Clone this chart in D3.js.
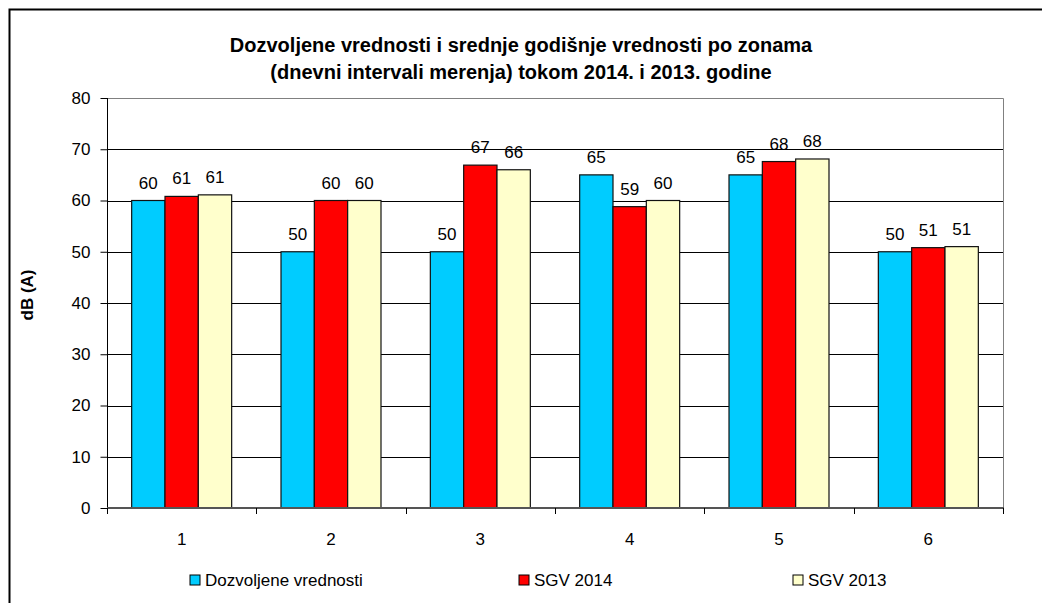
<!DOCTYPE html>
<html>
<head>
<meta charset="utf-8">
<script src="https://cdn.jsdelivr.net/npm/d3@7"></script>
<style>
  body { margin: 0; background: #fff; }
  svg { display: block; font-family: "Liberation Sans", Arial, sans-serif; }
</style>
</head>
<body>
<div id="chart"></div>
<script>
const zones = ["1", "2", "3", "4", "5", "6"];
const seriesNames = ["Dozvoljene vrednosti", "SGV 2014", "SGV 2013"];
const dozvoljene = [60, 50, 50, 65, 65, 50];
const sgv2014 = [60.8, 60.0, 66.9, 58.8, 67.6, 50.8];
const sgv2013 = [61.1, 60.0, 66.0, 60.0, 68.1, 51.0];
const yTicks = [0, 10, 20, 30, 40, 50, 60, 70, 80];
const titleLines = [
  "Dozvoljene vrednosti i srednje godišnje vrednosti po zonama",
  "(dnevni intervali merenja) tokom 2014. i 2013. godine"
];

const w = 1042, h = 603;
const margin = {top: 98, right: 39, bottom: 95, left: 107};
const colors = ["#00ccff", "#ff0000", "#ffffcc"];

const svg = d3.select("#chart").append("svg")
    .attr("width", w)
    .attr("height", h);

// outer frame (continues past the picture edge)
svg.append("rect")
    .attr("x", 9.5).attr("y", 9.5)
    .attr("width", w + 20).attr("height", h + 20)
    .attr("fill", "none")
    .attr("stroke", "#000")
    .attr("stroke-width", 2);

const x0 = d3.scaleBand()
    .domain(zones)
    .range([margin.left, w - margin.right])
    .paddingInner(0.3304)
    .paddingOuter(0.1652);

const x1 = d3.scaleBand()
    .domain(seriesNames)
    .range([0, x0.bandwidth()]);

const y = d3.scaleLinear()
    .domain([0, 80])
    .range([h - margin.bottom, margin.top]);

const color = d3.scaleOrdinal().domain(seriesNames).range(colors);

// gridlines
svg.append("g")
    .selectAll("line")
    .data(yTicks.filter(d => d > 0 && d < 80))
    .join("line")
    .attr("x1", margin.left).attr("x2", w - margin.right)
    .attr("y1", d => Math.round(y(d)) + 0.5).attr("y2", d => Math.round(y(d)) + 0.5)
    .attr("stroke", "#000")
    .attr("stroke-width", 1);

// plot frame top/right in gray
svg.append("path")
    .attr("d", "M" + margin.left + "," + (margin.top + 0.5) + "H" + (w - margin.right + 0.5) + "V" + (h - margin.bottom))
    .attr("fill", "none")
    .attr("stroke", "#808080")
    .attr("stroke-width", 1);

// y axis
const yAxis = svg.append("g")
    .attr("transform", "translate(" + (margin.left + 0.5) + ",0)")
    .call(d3.axisLeft(y).tickValues(yTicks).tickSize(7).tickPadding(10).tickFormat(d3.format("d")));
yAxis.select(".domain").attr("d", "M0," + y(80) + "V" + (y(0) + 6)).attr("stroke", "#000");
yAxis.selectAll(".tick line").attr("stroke", "#000");
yAxis.selectAll(".tick text")
    .attr("font-size", "17px")
    .attr("font-family", "Liberation Sans, Arial, sans-serif")
    .attr("fill", "#000");

// bars
const groups = svg.append("g")
    .selectAll("g")
    .data(zones)
    .join("g")
    .attr("transform", d => "translate(" + x0(d) + ",0)");

const allSeries = [dozvoljene, sgv2014, sgv2013];
groups.selectAll("rect")
    .data((d, i) => seriesNames.map((s, j) => ({name: s, value: allSeries[j][i]})))
    .join("rect")
    .attr("x", d => x1(d.name))
    .attr("y", d => y(d.value))
    .attr("width", x1.bandwidth())
    .attr("height", d => y(0) - y(d.value))
    .attr("fill", d => color(d.name))
    .attr("stroke", "#111")
    .attr("stroke-width", 1.2);

groups.selectAll("text")
    .data((d, i) => seriesNames.map((s, j) => ({name: s, value: allSeries[j][i]})))
    .join("text")
    .attr("x", d => x1(d.name) + x1.bandwidth() / 2)
    .attr("y", d => y(d.value) - 12)
    .attr("text-anchor", "middle")
    .attr("font-size", "17px")
    .attr("fill", "#000")
    .text(d => d3.format(".0f")(d.value));

// x axis
const xAxis = svg.append("g")
    .attr("transform", "translate(0," + y(0) + ")");
xAxis.append("line")
    .attr("x1", margin.left).attr("x2", w - margin.right + 1)
    .attr("stroke", "#555")
    .attr("stroke-width", 2);
const step = x0.step();
xAxis.selectAll("line.tick")
    .data(d3.range(zones.length + 1))
    .join("line")
    .attr("class", "tick")
    .attr("x1", d => Math.round(margin.left + d * step) + 0.5)
    .attr("x2", d => Math.round(margin.left + d * step) + 0.5)
    .attr("y1", 0).attr("y2", 6)
    .attr("stroke", "#000");
xAxis.selectAll("text")
    .data(zones)
    .join("text")
    .attr("x", d => x0(d) + x0.bandwidth() / 2)
    .attr("y", 37)
    .attr("text-anchor", "middle")
    .attr("font-size", "17px")
    .attr("fill", "#000")
    .text(d => d);

// title
svg.append("g")
    .selectAll("text")
    .data(titleLines)
    .join("text")
    .attr("x", 521)
    .attr("y", (d, i) => 52 + i * 27)
    .attr("text-anchor", "middle")
    .attr("font-size", "20px")
    .attr("font-weight", "bold")
    .attr("fill", "#000")
    .text(d => d);

// y title
svg.append("text")
    .attr("transform", "translate(33,295) rotate(-90)")
    .attr("text-anchor", "middle")
    .attr("font-size", "17px")
    .attr("font-weight", "bold")
    .attr("fill", "#000")
    .text("dB (A)");

// legend
const legendX = [190, 519, 793];
const legend = svg.append("g")
    .selectAll("g")
    .data(seriesNames)
    .join("g")
    .attr("transform", (d, i) => "translate(" + legendX[i] + ",575)");
legend.append("rect")
    .attr("width", 10).attr("height", 10)
    .attr("fill", d => color(d))
    .attr("stroke", "#000")
    .attr("stroke-width", 1);
legend.append("text")
    .attr("x", 15)
    .attr("y", 11)
    .attr("font-size", "17px")
    .attr("fill", "#000")
    .text(d => d);
</script>
</body>
</html>
